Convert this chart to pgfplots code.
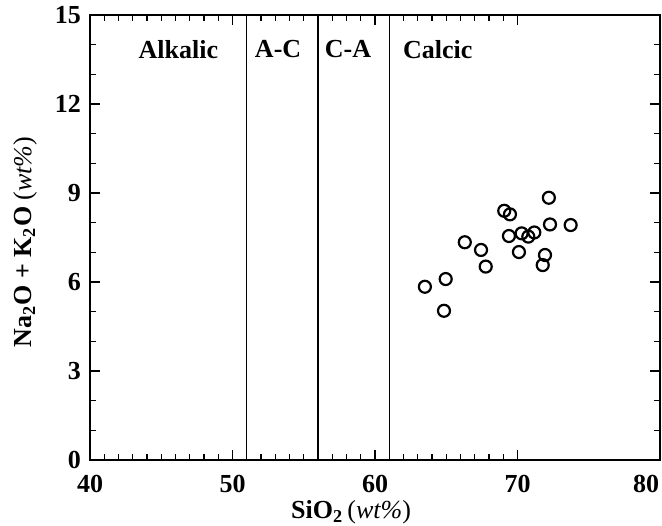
\documentclass[border=0pt]{standalone}
\usepackage{fontspec}
\setmainfont{Liberation Serif}
\usepackage{pgfplots}
\pgfplotsset{compat=1.18}

\begin{document}
\begin{tikzpicture}
\begin{axis}[
  scale only axis,
  width=285pt, height=222.5pt,
  xmin=40, xmax=80, ymin=0, ymax=15,
  xtick={40,50,60,70}, ytick={0,3,6,9,12,15},
  extra x ticks={80},
  extra x tick style={xticklabel style={xshift=-7pt}},
  minor x tick num=9, minor y tick num=2,
  tick align=inside,
  major tick length=5pt, minor tick length=2.8pt,
  axis line style={line width=1pt},
  every tick/.style={black, line width=0.6pt},
  tick label style={font=\fontsize{13}{15}\selectfont\bfseries},
  /pgf/number format/assume math mode=true,
  xticklabel style={yshift=-4pt},
  yticklabel style={xshift=-1pt},
  label style={font=\fontsize{13}{15}\selectfont\bfseries},
  xlabel={SiO\textsubscript{2}\,\textmd{(\textit{wt\%})}},
  ylabel={Na\textsubscript{2}O + K\textsubscript{2}O \textmd{(\textit{wt\%})}},
  xlabel style={at={(rel axis cs:0.458,0)}, anchor=center, yshift=-26pt},
  ylabel style={at={(rel axis cs:0,0.49)}, anchor=center, yshift=32.5pt},
  clip=false,
]
% boundaries between fields
\addplot[black, line width=0.6pt] coordinates {(51,0) (51,15)};
\addplot[black, line width=0.6pt] coordinates {(56,0) (56,15)};
\addplot[black, line width=0.6pt] coordinates {(61,0) (61,15)};

\addplot[only marks, mark=o, mark size=3pt, mark options={line width=1.1pt, black}]
  coordinates {
  (63.5,5.84) (64.96,6.10) (64.84,5.03) (66.3,7.34) (67.44,7.08) (67.77,6.52)
  (69.07,8.40) (69.47,8.28) (69.4,7.55) (70.1,7.01) (70.29,7.64) (70.76,7.53)
  (71.18,7.67) (72.2,8.84) (72.28,7.94) (73.73,7.92) (71.93,6.91) (71.77,6.57)
  };

\begin{scope}[every node/.style={font=\fontsize{13}{15}\selectfont\bfseries}]
\node at (axis cs:46.2,13.85) {Alkalic};
\node at (axis cs:53.2,13.85) {A-C};
\node at (axis cs:58.1,13.85) {C-A};
\node at (axis cs:64.4,13.85) {Calcic};
\end{scope}
\end{axis}
\pgfresetboundingbox
\useasboundingbox (-45pt,-32.5pt) rectangle (286pt,230pt);
\end{tikzpicture}
\end{document}
